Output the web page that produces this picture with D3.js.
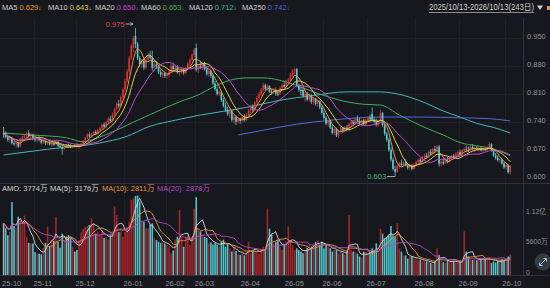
<!DOCTYPE html>
<html>
<head>
<meta charset="utf-8">
<script src="https://cdn.jsdelivr.net/npm/d3@7"></script>
<style>
  body { margin: 0; background: #17181d; }
  svg { display: block; font-family: "Liberation Sans", "Noto Sans CJK SC", sans-serif; }
</style>
</head>
<body>
<svg id="chart" width="550" height="288"></svg>
<script>
// month labels and the index of the first trading day of each month
const monthLabels = ["25-10", "25-11", "25-12", "26-01", "26-02", "26-03", "26-04", "26-05", "26-06", "26-07", "26-08", "26-09", "26-10"];
const monthStarts = [0, 15, 35, 58, 78, 92, 114, 135, 153, 174, 197, 218, 240];

// daily candles: [open, high, low, close]
const candles = [
  [.712,.727,.700,.712],[.712,.716,.698,.702],[.702,.708,.690,.695],[.695,.705,.688,.700],[.700,.702,.683,.686],
  [.686,.692,.680,.684],[.684,.690,.676,.688],[.688,.690,.674,.678],[.678,.700,.677,.698],[.698,.705,.692,.703],
  [.703,.710,.698,.706],[.706,.715,.700,.712],[.712,.719,.700,.704],[.704,.712,.699,.708],[.708,.710,.694,.697],
  [.697,.702,.690,.695],[.695,.700,.688,.698],[.698,.703,.691,.694],[.694,.697,.684,.688],[.688,.695,.685,.692],
  [.692,.694,.682,.686],[.686,.692,.682,.690],[.690,.693,.680,.683],[.683,.688,.677,.685],[.685,.690,.680,.685],
  [.685,.692,.682,.690],[.690,.691,.676,.679],[.679,.684,.674,.677],[.677,.680,.657,.672],[.672,.682,.670,.680],
  [.680,.684,.675,.678],[.678,.685,.676,.678],[.678,.684,.674,.676],[.676,.682,.674,.681],[.681,.683,.676,.681],
  [.681,.686,.676,.679],[.679,.684,.672,.682],[.682,.688,.678,.684],[.684,.695,.682,.693],[.693,.702,.690,.700],
  [.700,.712,.697,.708],[.708,.714,.700,.703],[.703,.712,.700,.710],[.710,.718,.705,.715],[.715,.720,.707,.710],
  [.710,.722,.708,.719],[.719,.728,.714,.725],[.725,.736,.720,.733],[.733,.738,.724,.728],[.728,.742,.726,.740],
  [.740,.752,.735,.748],[.748,.755,.738,.742],[.742,.762,.740,.758],[.758,.776,.755,.772],[.772,.790,.768,.785],
  [.785,.795,.775,.780],[.780,.806,.778,.802],[.802,.826,.798,.821],[.821,.848,.815,.842],[.842,.872,.838,.866],
  [.866,.905,.860,.900],[.900,.936,.895,.930],[.925,.956,.915,.950],[.955,.975,.925,.935],[.935,.940,.895,.900],
  [.900,.905,.878,.885],[.885,.898,.875,.893],[.893,.896,.870,.876],[.876,.900,.872,.896],[.896,.912,.890,.905],
  [.905,.918,.896,.900],[.900,.918,.868,.875],[.875,.890,.870,.884],[.884,.892,.872,.878],[.878,.882,.860,.865],
  [.865,.870,.852,.858],[.858,.866,.850,.862],[.862,.865,.850,.855],[.855,.862,.848,.858],[.858,.870,.852,.866],
  [.866,.885,.862,.880],[.880,.888,.868,.872],[.872,.884,.865,.878],[.878,.882,.860,.864],[.864,.872,.855,.868],
  [.868,.876,.860,.872],[.872,.875,.858,.862],[.862,.878,.860,.875],[.875,.890,.872,.886],[.886,.900,.880,.895],
  [.895,.912,.890,.908],[.908,.925,.902,.920],[.925,.936,.866,.870],[.870,.885,.862,.880],[.880,.893,.872,.876],
  [.876,.890,.870,.886],[.886,.890,.868,.872],[.872,.878,.856,.860],[.860,.872,.852,.868],[.868,.870,.850,.855],
  [.855,.858,.832,.836],[.836,.842,.818,.822],[.822,.828,.806,.810],[.810,.820,.805,.815],[.815,.818,.790,.795],
  [.795,.800,.776,.780],[.780,.788,.765,.770],[.770,.778,.755,.760],[.760,.772,.750,.768],[.768,.770,.740,.745],
  [.745,.758,.735,.752],[.752,.756,.732,.740],[.740,.752,.736,.748],[.748,.750,.735,.742],[.742,.756,.738,.752],
  [.752,.760,.740,.745],[.745,.762,.742,.758],[.758,.772,.754,.768],[.768,.782,.762,.778],[.778,.784,.765,.770],
  [.770,.792,.768,.789],[.789,.805,.784,.800],[.800,.815,.795,.810],[.810,.825,.805,.820],[.820,.838,.815,.832],
  [.832,.836,.818,.822],[.822,.834,.818,.830],[.830,.832,.812,.815],[.815,.822,.808,.815],[.815,.825,.810,.820],
  [.820,.826,.805,.810],[.810,.818,.804,.810],[.810,.828,.808,.825],[.825,.836,.820,.832],[.832,.840,.825,.828],
  [.828,.845,.826,.842],[.842,.850,.835,.846],[.846,.862,.842,.858],[.858,.872,.852,.868],[.868,.876,.860,.872],
  [.872,.875,.828,.832],[.832,.836,.815,.820],[.820,.828,.806,.820],[.820,.824,.800,.805],[.805,.815,.790,.810],
  [.810,.814,.792,.796],[.796,.812,.790,.806],[.806,.810,.785,.790],[.790,.802,.782,.798],[.798,.800,.780,.785],
  [.785,.796,.778,.792],[.792,.794,.772,.776],[.776,.780,.758,.762],[.762,.768,.745,.750],[.750,.755,.732,.736],
  [.736,.748,.728,.744],[.744,.746,.722,.726],[.726,.732,.708,.712],[.712,.726,.706,.722],[.722,.725,.702,.706],
  [.706,.720,.700,.716],[.716,.728,.710,.724],[.724,.727,.712,.716],[.716,.730,.714,.726],[.726,.732,.716,.720],
  [.720,.738,.718,.734],[.734,.745,.728,.740],[.740,.744,.730,.735],[.735,.752,.732,.748],[.748,.756,.738,.742],
  [.742,.750,.732,.736],[.736,.746,.728,.744],[.744,.748,.730,.734],[.734,.748,.732,.745],[.745,.755,.738,.750],
  [.750,.758,.742,.746],[.760,.776,.742,.745],[.745,.752,.736,.740],[.740,.748,.728,.732],[.732,.745,.728,.742],
  [.742,.770,.738,.762],[.762,.765,.728,.732],[.732,.736,.705,.710],[.710,.715,.690,.695],[.695,.700,.665,.670],
  [.670,.676,.640,.645],[.645,.650,.618,.622],[.622,.630,.603,.615],[.615,.632,.612,.628],[.628,.640,.622,.636],
  [.636,.645,.628,.632],[.632,.642,.626,.638],[.638,.646,.628,.631],[.631,.636,.620,.625],[.625,.635,.620,.630],
  [.630,.634,.618,.622],[.622,.636,.620,.633],[.633,.642,.628,.640],[.640,.648,.634,.645],[.645,.650,.636,.640],
  [.640,.655,.638,.652],[.652,.660,.645,.656],[.656,.662,.648,.652],[.652,.668,.650,.665],[.665,.672,.656,.660],
  [.660,.675,.658,.672],[.672,.680,.664,.668],[.668,.682,.665,.678],[.678,.682,.628,.635],[.635,.645,.628,.640],
  [.640,.650,.632,.636],[.636,.648,.634,.645],[.645,.652,.636,.640],[.640,.652,.638,.650],[.650,.658,.645,.655],
  [.655,.660,.646,.650],[.650,.664,.648,.660],[.660,.668,.654,.664],[.664,.670,.655,.658],[.658,.672,.656,.668],
  [.668,.676,.662,.672],[.672,.680,.665,.670],[.670,.678,.664,.670],[.670,.682,.666,.678],[.678,.684,.668,.672],
  [.672,.678,.664,.675],[.675,.680,.668,.670],[.670,.676,.664,.674],[.674,.678,.666,.668],[.668,.676,.664,.672],
  [.672,.675,.666,.670],[.670,.680,.668,.676],[.676,.690,.672,.684],[.684,.686,.665,.668],[.668,.672,.652,.656],
  [.656,.662,.645,.650],[.650,.656,.640,.644],[.644,.650,.636,.646],[.646,.650,.632,.636],[.636,.640,.622,.626],
  [.626,.636,.620,.632],[.632,.634,.610,.614],[.614,.632,.607,.628]
];

// daily amount, in 万
const volumes = [
  9500, 8600, 7300, 8000, 13400, 9000, 8500, 10700, 10300, 9600,
  10900, 7000, 5900, 5800, 5800, 4200, 4000, 3900, 3800, 5000,
  5900, 8900, 5300, 6500, 6300, 10700, 6100, 5000, 7600, 6400,
  7000, 7300, 6800, 5200, 4300, 4600, 6400, 7800, 8500, 8800,
  9000, 9200, 10400, 9500, 7600, 8000, 7400, 8000, 6800, 7000,
  6500, 7300, 8000, 12600, 11000, 7900, 8000, 7000, 7900, 8800,
  9800, 13800, 14000, 14500, 14600, 13500, 9800, 9800, 8600, 8600,
  9200, 9500, 6800, 6400, 6100, 5900, 6100, 5800, 5500, 5200,
  4000, 4500, 6500, 7000, 11900, 7000, 5200, 7000, 7300, 5500,
  6200, 12200, 14300, 8500, 8000, 7500, 7000, 6800, 5800, 6000,
  5600, 5900, 5600, 5200, 6100, 6500, 5200, 5800, 4900, 4300,
  5000, 4400, 3800, 3700, 4000, 3600, 4300, 6100, 4000, 4300,
  4900, 4400, 3900, 4600, 5200, 4500, 12200, 8500, 7400, 5700,
  6100, 6400, 5200, 4600, 5500, 6100, 8900, 6400, 5500, 4600,
  4900, 4600, 4300, 4000, 4600, 5000, 5500, 5200, 5800, 6100,
  6400, 5600, 6100, 4900, 5500, 5200, 4900, 4300, 4600, 4600,
  4000, 4300, 4000, 3700, 4300, 11000, 4600, 4300, 4300, 3900,
  3400, 3200, 4300, 4200, 4000, 4300, 4900, 4600, 5800, 4500,
  8500, 7600, 6700, 7000, 7300, 9000, 7300, 7000, 9500, 4900,
  4300, 3600, 3600, 3000, 3400, 3400, 3000, 3000, 2800, 2800,
  2600, 2500, 2500, 2400, 2200, 2000, 2500, 4900, 3700, 2600,
  2400, 2200, 2800, 2400, 2600, 2500, 2300, 2200, 2400, 2500,
  8000, 4300, 3400, 2900, 2800, 3000, 2700, 3100, 2900, 2800,
  2750, 3200, 3300, 2200, 2500, 2300, 2600, 2640, 2900, 2800,
  3000, 3400, 3774
];

// long moving averages: [day index, value]
const ma60Points = [[0,.712],[14,.707],[30,.700],[38,.690],[46,.702],[62,.739],[78,.777],[84,.790],[94,.810],
  [100,.827],[108,.844],[116,.850],[124,.850],[132,.844],[140,.831],[148,.815],[156,.801],[164,.790],[172,.784],
  [180,.782],[189,.757],[202,.724],[210,.707],[218,.688],[226,.680],[234,.672],[242,.655]];
const ma120Points = [[0,.657],[22,.672],[46,.687],[58,.702],[70,.729],[82,.744],[94,.757],[116,.776],[132,.794],
  [148,.806],[164,.815],[180,.815],[186,.812],[202,.786],[210,.767],[218,.752],[226,.736],[234,.726],[242,.712]];
const ma250Points = [[112,.707],[124,.719],[140,.734],[156,.744],[180,.752],[199,.752],[218,.750],[232,.748],[242,.742]];

const priceTicks = [0.600, 0.670, 0.740, 0.810, 0.880, 0.950];
const volTicks = [0, 5600, 11200];
const volTickLabels = ["0", "5600万", "1.12亿"];

const maNames = ["MA5", "MA10", "MA20", "MA60", "MA120", "MA250"];
const maLegendValues = ["0.629", "0.643", "0.650", "0.653", "0.712", "0.742"];
const maColors = ["#e8953a", "#dccf4e", "#c24bc9", "#3fae5a", "#3fbab5", "#5068d8"];
const volLegend = [["AMO: 3774万", "#d6d6d6"], ["MA(5): 3176万", "#d6d6d6"], ["MA(10): 2811万", "#e8953a"], ["MA(20): 2878万", "#b64ac6"]];
const rangeText = "2025/10/13-2026/10/13(243日)";

const upColor = "#de3138", downColor = "#52cfd6", flatColor = "#c4c4c4";
const upVolColor = "#a2252a", downVolColor = "#4bc4ca", flatVolColor = "#aeaeae";
const gridColor = "#1f2126", lineColor = "#30333b", axisTextColor = "#8e929a";

const svg = d3.select("#chart");
const W = 550, plotRight = 523;

const x = d3.scaleLinear().domain([0, candles.length - 1]).range([3.6, 510.3]);
const y = d3.scaleLinear().domain([0.6, 0.95]).range([177.7, 38]);
const yv = d3.scaleLinear().domain([0, 11200]).range([275, 214]);

function movingAvg(vals, n) {
  return vals.map((v, i) => d3.mean(vals.slice(Math.max(0, i - n + 1), i + 1)));
}
function candleColor(d, up, down, flat) {
  return d[3] > d[0] ? up : (d[3] < d[0] ? down : flat);
}

// background
svg.append("rect").attr("width", W).attr("height", 288).attr("fill", "#17181d");

// grid
const grid = svg.append("g");
grid.selectAll(".hg").data(priceTicks).enter().append("line")
  .attr("x1", 0).attr("x2", plotRight).attr("y1", d => Math.round(y(d)) + 0.5).attr("y2", d => Math.round(y(d)) + 0.5)
  .attr("stroke", gridColor);
grid.selectAll(".vg").data(monthStarts.slice(1)).enter().append("line")
  .attr("x1", d => Math.round(x(d) - 1) + 0.5).attr("x2", d => Math.round(x(d) - 1) + 0.5)
  .attr("y1", 18).attr("y2", 275)
  .attr("stroke", gridColor);

// panel borders
svg.append("line").attr("x1", plotRight + 0.5).attr("x2", plotRight + 0.5).attr("y1", 18).attr("y2", 276).attr("stroke", lineColor);
svg.append("line").attr("x1", 0).attr("x2", W).attr("y1", 183.5).attr("y2", 183.5).attr("stroke", lineColor);
svg.append("line").attr("x1", 0).attr("x2", W).attr("y1", 275.5).attr("y2", 275.5).attr("stroke", lineColor);

// long moving averages
const curve = d3.line().x(d => x(d[0])).y(d => y(d[1])).curve(d3.curveMonotoneX);
[[ma60Points, maColors[3]], [ma120Points, maColors[4]], [ma250Points, maColors[5]]].forEach(([pts, c]) => {
  svg.append("path").attr("d", curve(pts)).attr("fill", "none").attr("stroke", c).attr("stroke-width", 1);
});

// candles
const cg = svg.append("g");
cg.selectAll("line").data(candles).enter().append("line")
  .attr("x1", (d, i) => x(i)).attr("x2", (d, i) => x(i))
  .attr("y1", d => y(d[1])).attr("y2", d => y(d[2]))
  .attr("stroke", d => candleColor(d, upColor, downColor, flatColor))
  .attr("stroke-width", 0.8);
cg.selectAll("rect").data(candles).enter().append("rect")
  .attr("x", (d, i) => x(i) - 0.8)
  .attr("width", 1.6)
  .attr("y", d => y(Math.max(d[0], d[3])))
  .attr("height", d => Math.max(0.8, Math.abs(y(d[0]) - y(d[3]))))
  .attr("fill", d => candleColor(d, upColor, downColor, flatColor));

// short moving averages from the closes
const closes = candles.map(d => d[3]);
const ptLine = d3.line().x((d, i) => x(i)).y(d => y(d));
[[5, maColors[0]], [10, maColors[1]], [20, maColors[2]]].forEach(([n, c]) => {
  svg.append("path").attr("d", ptLine(movingAvg(closes, n))).attr("fill", "none").attr("stroke", c).attr("stroke-width", 1);
});

// high / low markers
const hiIdx = d3.maxIndex(candles, d => d[1]);
const loIdx = d3.minIndex(candles, d => d[2]);
const hiY = y(candles[hiIdx][1]) - 4;
svg.append("text").attr("x", x(hiIdx) - 11).attr("y", hiY).attr("dy", "0.35em")
  .attr("text-anchor", "end").attr("font-size", 7.5).attr("fill", "#dd4a55")
  .text(d3.format(".3f")(candles[hiIdx][1]));
svg.append("line").attr("x1", x(hiIdx) - 10).attr("x2", x(hiIdx) - 2.5).attr("y1", hiY).attr("y2", hiY)
  .attr("stroke", "#c9c9c9").attr("stroke-width", 0.8);
svg.append("path").attr("d", `M${x(hiIdx) - 2.5},${hiY} l-2.5,-1.5 M${x(hiIdx) - 2.5},${hiY} l-2.5,1.5`)
  .attr("stroke", "#c9c9c9").attr("stroke-width", 0.8).attr("fill", "none");
const loY = y(candles[loIdx][2]);
svg.append("text").attr("x", x(loIdx) - 9).attr("y", loY).attr("dy", "0.35em")
  .attr("text-anchor", "end").attr("font-size", 7.5).attr("fill", "#3cb870")
  .text(d3.format(".3f")(candles[loIdx][2]));
svg.append("line").attr("x1", x(loIdx) - 8).attr("x2", x(loIdx)).attr("y1", loY).attr("y2", loY)
  .attr("stroke", "#c9c9c9").attr("stroke-width", 0.8);

// price axis
svg.append("g").attr("transform", `translate(${plotRight},0)`)
  .call(d3.axisRight(y).tickValues(priceTicks).tickFormat(d3.format(".3f")).tickSize(0).tickPadding(4))
  .call(g => g.select(".domain").remove())
  .selectAll("text").attr("y", -2).attr("fill", axisTextColor).attr("font-size", 7.5)
  .attr("font-family", "Liberation Sans, sans-serif");

// volume bars
svg.append("g").selectAll("rect").data(candles).enter().append("rect")
  .attr("x", (d, i) => x(i) - 0.8)
  .attr("width", 1.6)
  .attr("y", (d, i) => yv(volumes[i]))
  .attr("height", (d, i) => yv(0) - yv(volumes[i]))
  .attr("fill", d => candleColor(d, upVolColor, downVolColor, flatVolColor));

// volume moving averages
const volLine = d3.line().x((d, i) => x(i)).y(d => yv(d));
[[5, "#d8d8d8"], [10, "#e8953a"], [20, "#b64ac6"]].forEach(([n, c]) => {
  svg.append("path").attr("d", volLine(movingAvg(volumes, n))).attr("fill", "none").attr("stroke", c).attr("stroke-width", 0.9);
});

// volume axis
svg.append("g").attr("transform", `translate(${plotRight},0)`)
  .call(d3.axisRight(yv).tickValues(volTicks).tickFormat((d, i) => volTickLabels[i]).tickSize(0).tickPadding(3))
  .call(g => g.select(".domain").remove())
  .selectAll("text").attr("y", -3).attr("fill", axisTextColor).attr("font-size", 6.8)
  .attr("font-family", "Liberation Sans, Noto Sans CJK SC, sans-serif");

// month axis
const xAxis = svg.append("g").attr("transform", "translate(0,276)")
  .call(d3.axisBottom(x).tickValues(monthStarts).tickFormat((d, i) => monthLabels[i]).tickSize(0).tickPadding(5))
  .call(g => g.select(".domain").remove());
xAxis.selectAll("text")
  .attr("fill", axisTextColor).attr("font-size", 7.5).attr("font-family", "Liberation Sans, sans-serif")
  .attr("text-anchor", "start").attr("dx", -2);
xAxis.selectAll(".tick").filter((d, i) => i === monthStarts.length - 1).select("text")
  .attr("text-anchor", "end").attr("dx", plotRight - x(monthStarts[monthStarts.length - 1]) - 2);

// main legend
const legendX = [2, 48, 95, 141, 189, 242];
maNames.forEach((name, i) => {
  const t = svg.append("text").attr("x", legendX[i]).attr("y", 9.5).attr("font-size", 7.5);
  t.append("tspan").attr("fill", "#cfcfcf").text(name + " ");
  t.append("tspan").attr("fill", maColors[i]).text(maLegendValues[i]);
  t.append("tspan").attr("fill", maColors[i]).attr("font-size", 6).text("↓");
});

// date range
svg.append("text").attr("x", 429).attr("y", 9.5).attr("font-size", 8.5)
  .attr("textLength", 105).attr("lengthAdjust", "spacingAndGlyphs")
  .attr("fill", "#cfcfcf").text(rangeText);
svg.append("line").attr("x1", 429).attr("x2", 534).attr("y1", 12.5).attr("y2", 12.5).attr("stroke", "#bdbdbd").attr("stroke-width", 0.7);
svg.append("path").attr("d", "M537,5.5 L543,5.5 L540,10 Z").attr("fill", "#d0d0d0");
svg.append("rect").attr("x", 547).attr("y", 6).attr("width", 3).attr("height", 4).attr("fill", "#e39a2d");

// volume legend
const volLegendX = [2, 50, 102, 157];
volLegend.forEach(([txt, c], i) => {
  svg.append("text").attr("x", volLegendX[i]).attr("y", 191).attr("font-size", 7.5).attr("fill", c).text(txt);
});

// expand button
svg.append("circle").attr("cx", 543).attr("cy", 262).attr("r", 8.5).attr("fill", "#3a3e46").attr("opacity", 0.9);
svg.append("path").attr("d", "M539.5,265.5 L546.5,258.5 M546.5,258.5 l-3,0 M546.5,258.5 l0,3 M539.5,265.5 l3,0 M539.5,265.5 l0,-3")
  .attr("stroke", "#8fc6e6").attr("stroke-width", 1).attr("fill", "none");
</script>
</body>
</html>
